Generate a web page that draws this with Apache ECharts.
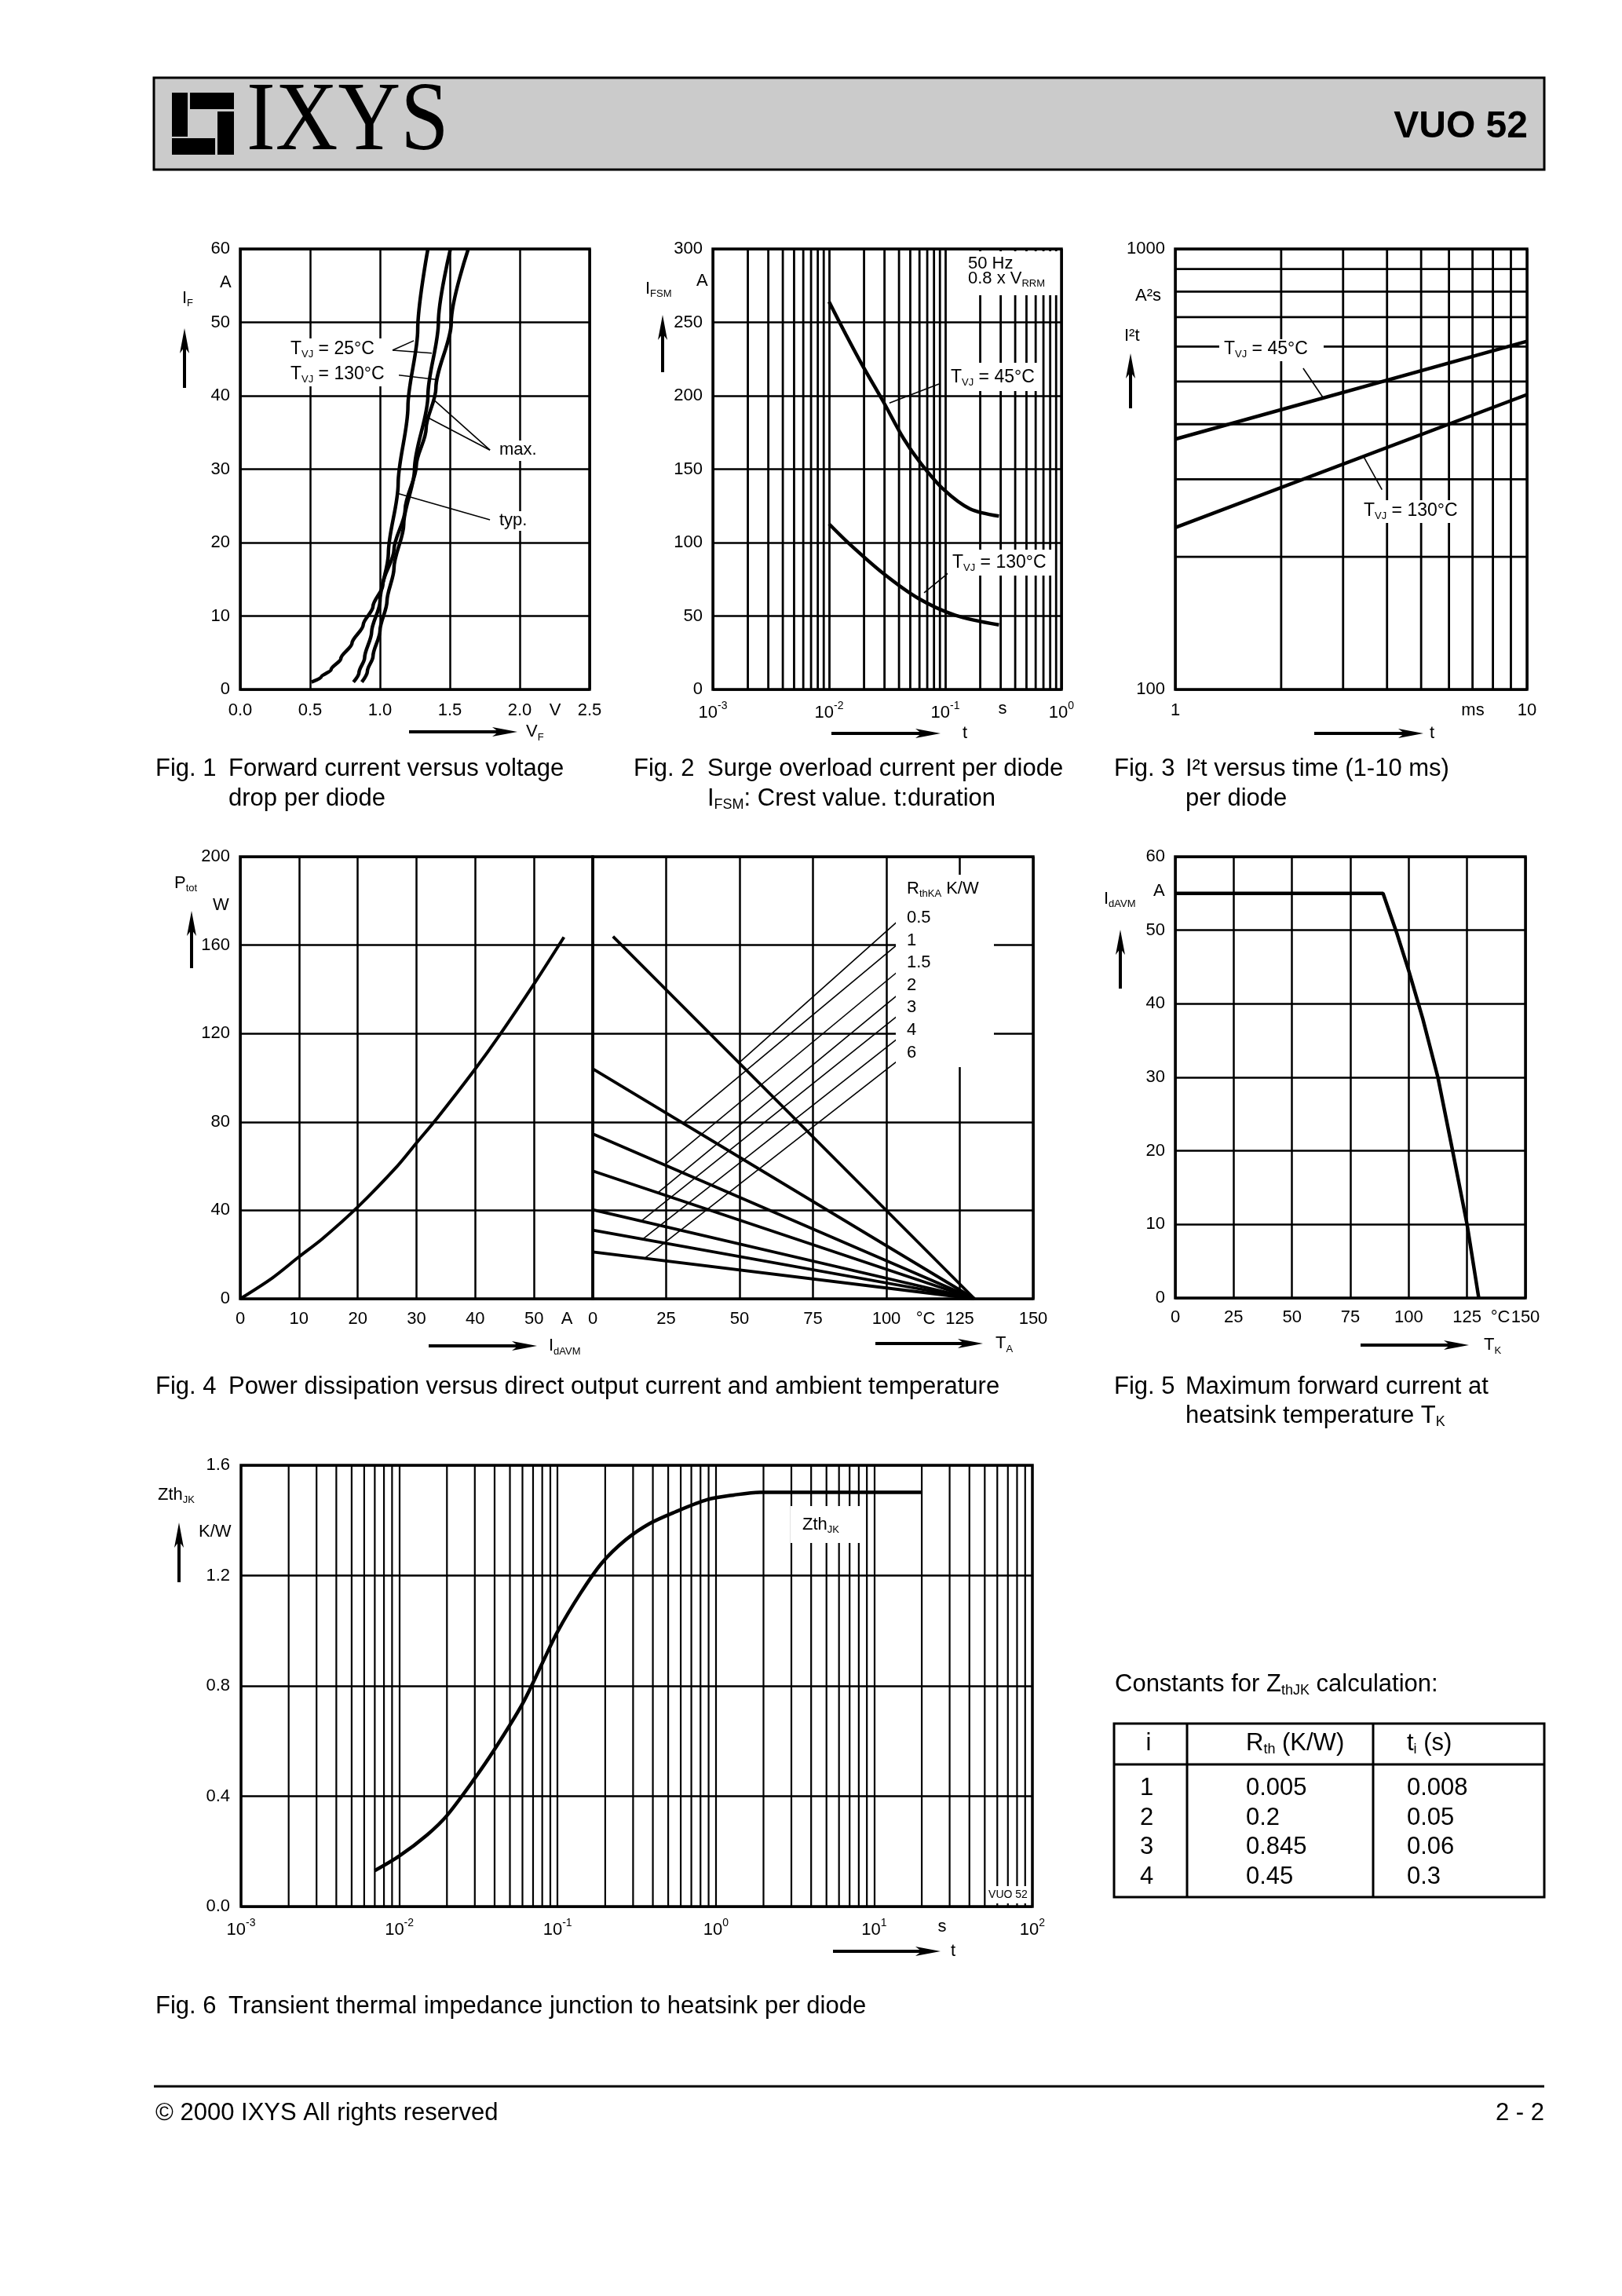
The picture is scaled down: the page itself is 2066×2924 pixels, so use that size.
<!DOCTYPE html>
<html><head><meta charset="utf-8">
<script src="https://cdn.jsdelivr.net/npm/echarts@6/dist/echarts.min.js"></script>
<style>html,body{margin:0;padding:0;background:#fff}#c{width:2066px;height:2924px}</style>
</head><body><div id="c"></div>
<script>
// ---------------- DATA ----------------
// Fig 1: forward current IF (A) vs VF (V)
const fig1Typ25 = [[0.81,1],[0.85,2.3],[0.89,4.3],[0.94,7.8],[1.0,12],[1.06,18.5],[1.13,28],[1.2,38.5],[1.27,49],[1.343,60]];
const fig1Max25 = [[0.87,1],[0.91,2.5],[0.95,4.5],[1.0,8],[1.05,12],[1.1,16.5],[1.17,22.5],[1.247,30],[1.343,40],[1.418,50],[1.504,60]];
const fig1Max130 = [[0.51,1],[0.58,1.7],[0.65,2.7],[0.72,4.2],[0.8,6.3],[0.88,8.8],[0.95,11.3],[1.02,14.2],[1.1,19],[1.18,24.5],[1.26,30.5],[1.33,35.5],[1.4,41],[1.51,50],[1.632,60]];
const fig1Lead25a = [[1.09,46.2],[1.242,47.5]];
const fig1Lead25b = [[1.09,46.2],[1.371,45.8]];
const fig1Lead130 = [[1.135,42.8],[1.41,42.2]];
const fig1LeadMaxA = [[1.787,32.6],[1.388,39.4]];
const fig1LeadMaxB = [[1.787,32.6],[1.326,37.2]];
const fig1LeadTyp = [[1.787,23.1],[1.124,26.7]];
// Fig 2: surge current IFSM (A) vs t (s)
const fig2T45 = [[0.01,264],[0.0139,242],[0.0196,220],[0.0293,196],[0.0437,171],[0.0616,154],[0.0974,136],[0.163,123],[0.29,118]];
const fig2T130 = [[0.01,112.7],[0.0147,99.7],[0.0293,79],[0.0582,62.2],[0.1224,50.5],[0.29,44]];
const fig2Lead45 = [[0.0883,208],[0.0331,195]];
const fig2Lead130 = [[0.108,79.7],[0.0658,65.8]];
// Fig 3: I2t (A2s) vs t (ms)
const fig3T45 = [[1,370],[10,617]];
const fig3T130 = [[1,233],[10,467]];
const fig3Lead45 = [[2.31,536],[2.63,460]];
const fig3Lead130 = [[3.43,338],[3.87,284]];
// Fig 4 left: Ptot (W) vs IdAVM (A)
const fig4Ptot = [[0,0],[5.5,9.5],[10,19],[14,27.2],[20,41.5],[26.7,59.9],[30,70.5],[33.6,82],[40,104],[44.2,119.5],[50,142.4],[55.1,163.6]];
// Fig 4 right: Ptot (W) vs TA (degC) per RthKA
const fig4RthLabels = ['0.5','1','1.5','2','3','4','6'];
const fig4R05 = [[6.9,163.9],[130,0]];
const fig4R1 = [[0,104],[130,0]];
const fig4R15 = [[0,74.6],[130,0]];
const fig4R2 = [[0,57.8],[130,0]];
const fig4R3 = [[0,40.3],[130,0]];
const fig4R4 = [[0,31],[130,0]];
const fig4R6 = [[0,21.2],[130,0]];
const fig4Leads = [
  [[103.5,170.4],[50,107]],
  [[103.5,160],[31.2,80]],
  [[103.5,147.6],[24.8,61]],
  [[103.5,137.1],[22.2,48]],
  [[103.5,127.7],[16.4,35]],
  [[103.5,117.4],[17.1,27]],
  [[103.5,107.3],[17.7,18.3]]
];
// Fig 5: IdAVM (A) vs TK (degC)
const fig5Curve = [[0,55],[89,55],[95,49.5],[100,44.5],[106,38],[112.5,30],[118.5,20.5],[125,10],[130,0]];
// Fig 6: ZthJK (K/W) vs t (s)
const fig6Zth = [[0.007,0.13],[0.01,0.183],[0.015,0.26],[0.02,0.33],[0.03,0.465],[0.04,0.57],[0.06,0.735],[0.08,0.882],[0.1,0.997],[0.14,1.137],[0.19,1.245],[0.27,1.33],[0.38,1.388],[0.55,1.43],[0.88,1.475],[1.3,1.492],[1.9,1.502],[20,1.502]];
// Table
const tblI = ['1','2','3','4'];
const tblRth = ['0.005','0.2','0.845','0.45'];
const tblTi = ['0.008','0.05','0.06','0.3'];
// log grid digits
const minorDigits = [2,3,4,5,6,7,8,9];

// ---------------- HELPERS ----------------
const FONT = '"Liberation Sans", Arial, Helvetica, sans-serif';
const ctx = document.createElement('canvas').getContext('2d');
function tw(t, s, w){ ctx.font = (w||'normal') + ' ' + s + 'px ' + FONT; return ctx.measureText(t).width; }
const G = [];
function txt(x, y, t, s, o){
  o = o || {};
  G.push({type:'text', x:x, y:y, z:o.z||110, scaleX:o.sx||1, silent:true,
    style:{text:t, font:(o.w||'normal')+' '+s+'px '+(o.f||FONT), fill:'#000', textAlign:o.a||'left', textVerticalAlign:'middle'}});
}
function comp(x, y, parts, align){
  const total = parts.reduce((a,p)=>a+tw(p[0],p[1]),0);
  let cx = align==='right' ? x-total : (align==='center' ? x-total/2 : x);
  parts.forEach(p=>{ txt(cx, y+(p[2]||0), p[0], p[1]); cx += tw(p[0],p[1]); });
}
function box(x,y,w,h){ G.push({type:'rect', z:105, silent:true, shape:{x:x,y:y,width:w,height:h}, style:{fill:'#fff'}}); }
function hline(x1,x2,y,w){ G.push({type:'line', z:110, silent:true, shape:{x1:x1,y1:y,x2:x2,y2:y}, style:{stroke:'#000', lineWidth:w}}); }
function vline(x,y1,y2,w){ G.push({type:'line', z:110, silent:true, shape:{x1:x,y1:y1,x2:x,y2:y2}, style:{stroke:'#000', lineWidth:w}}); }
function harrow(x1,x2,y){
  hline(x1, x2-20, y, 4);
  G.push({type:'polygon', z:110, silent:true, shape:{points:[[x2,y],[x2-32,y-6],[x2-24,y],[x2-32,y+6]]}, style:{fill:'#000'}});
}
function varrow(x,y1,y2){
  vline(x, y1+20, y2, 4);
  G.push({type:'polygon', z:110, silent:true, shape:{points:[[x,y1],[x-6,y1+32],[x,y1+24],[x+6,y1+32]]}, style:{fill:'#000'}});
}
function blkRect(x,y,w,h){ G.push({type:'rect', z:110, silent:true, shape:{x:x,y:y,width:w,height:h}, style:{fill:'#000'}}); }

const GRID_W = 2.5, BORDER_W = 3.5;
const gridDefs = [
  {left:306, top:317, width:445, height:561},
  {left:908, top:317, width:444, height:561},
  {left:1497, top:317, width:448, height:561},
  {left:306, top:1091, width:449, height:563},
  {left:755, top:1091, width:561, height:563},
  {left:1497, top:1091, width:446, height:562},
  {left:307, top:1866, width:1008, height:562}
];
const grids = gridDefs.map(g => Object.assign({show:true, borderColor:'#000', borderWidth:BORDER_W, backgroundColor:'transparent', containLabel:false}, g));

const lblBase = {color:'#000', fontSize:22, fontFamily:FONT};
const supRich = {p:{fontSize:14, fontFamily:FONT, color:'#000', padding:[0,0,18,0]}};
function expFmt(v){ const e = Math.round(Math.log10(v)); return '10{p|' + e + '}'; }
function ax(gi, o){
  return Object.assign({
    gridIndex: gi,
    axisLine:{show:false}, axisTick:{show:false},
    splitLine:{show:true, lineStyle:{color:'#000', width:GRID_W}},
    axisLabel:Object.assign({margin:14}, lblBase)
  }, o);
}
const xAxes = [
  ax(0,{type:'value', min:0, max:2.5, interval:0.5, axisLabel:Object.assign({margin:16, formatter:v=>v.toFixed(1)}, lblBase)}),
  ax(1,{type:'log', logBase:10, min:0.001, max:1, splitLine:{show:true, lineStyle:{color:'#000', width:2.8}}, axisLabel:Object.assign({margin:14, formatter:expFmt, rich:supRich}, lblBase)}),
  ax(2,{type:'log', logBase:10, min:1, max:10, axisLabel:Object.assign({margin:16, formatter:v=>String(Math.round(v))}, lblBase)}),
  ax(3,{type:'value', min:0, max:60, interval:10, axisLabel:Object.assign({margin:15, formatter:v=>v===60?'':String(v)}, lblBase)}),
  ax(4,{type:'value', min:0, max:150, interval:25, axisLabel:Object.assign({margin:15}, lblBase)}),
  ax(5,{type:'value', min:0, max:150, interval:25, axisLabel:Object.assign({margin:14}, lblBase)}),
  ax(6,{type:'log', logBase:10, min:0.001, max:100, splitLine:{show:true, lineStyle:{color:'#000', width:2.2}}, axisLabel:Object.assign({margin:14, formatter:expFmt, rich:supRich}, lblBase)})
];
const yAxes = [
  ax(0,{type:'value', min:0, max:60, interval:10, axisLabel:Object.assign({margin:13}, lblBase)}),
  ax(1,{type:'value', min:0, max:300, interval:50, axisLabel:Object.assign({margin:13}, lblBase)}),
  ax(2,{type:'log', logBase:10, min:100, max:1000, axisLabel:Object.assign({margin:13, formatter:v=>String(Math.round(v))}, lblBase)}),
  ax(3,{type:'value', min:0, max:200, interval:40, axisLabel:Object.assign({margin:13}, lblBase)}),
  ax(4,{type:'value', min:0, max:200, interval:40, axisLabel:{show:false}}),
  ax(5,{type:'value', min:0, max:60, interval:10, axisLabel:Object.assign({margin:13}, lblBase)}),
  ax(6,{type:'value', min:0, max:1.6, interval:0.4, axisLabel:Object.assign({margin:14, formatter:v=>v.toFixed(1)}, lblBase)})
];

function ln(gi, data, w, extra){
  return Object.assign({type:'line', xAxisIndex:gi, yAxisIndex:gi, data:data, symbol:'none', showSymbol:false,
    lineStyle:{color:'#000', width:w}, silent:true, animation:false, z:3}, extra||{});
}
// minor log grid lines, drawn through the axes as 2-point series
const decades = (from, n) => { const out=[]; for(let i=0;i<n;i++){ const d=Math.pow(10,from+i); minorDigits.forEach(k=>out.push(+(k*d).toPrecision(6))); } return out; };
const fig2Minor = decades(-3,3);
const fig3MinorX = decades(0,1);
const fig3MinorY = decades(2,1);
const fig6Minor = decades(-3,5);
function vGrid(gi, vals, y0, y1, w){ return vals.map(v => ln(gi, [[v,y0],[v,y1]], w, {z:1})); }
function hGrid(gi, vals, x0, x1, w){ return vals.map(v => ln(gi, [[x0,v],[x1,v]], w, {z:1})); }

const LW = 4.5, LEAD = 1.6;
let series = [
  // Fig 1
  ln(0, fig1Typ25, LW, {smooth:0.3, smoothMonotone:'y'}),
  ln(0, fig1Max25, LW, {smooth:0.3, smoothMonotone:'y'}),
  ln(0, fig1Max130, LW, {smooth:0.3, smoothMonotone:'y'}),
  ln(0, fig1Lead25a, LEAD), ln(0, fig1Lead25b, LEAD), ln(0, fig1Lead130, LEAD),
  ln(0, fig1LeadMaxA, LEAD), ln(0, fig1LeadMaxB, LEAD), ln(0, fig1LeadTyp, LEAD),
  // Fig 2
  ln(1, fig2T45, LW, {smooth:0.3}),
  ln(1, fig2T130, LW, {smooth:0.3}),
  ln(1, fig2Lead45, LEAD), ln(1, fig2Lead130, LEAD),
  // Fig 3
  ln(2, fig3T45, LW),
  ln(2, fig3T130, LW),
  ln(2, fig3Lead45, LEAD), ln(2, fig3Lead130, LEAD),
  // Fig 4 left
  ln(3, fig4Ptot, 4, {smooth:0.3}),
  // Fig 4 right
  ln(4, fig4R05, 3.8), ln(4, fig4R1, 3.8), ln(4, fig4R15, 3.8), ln(4, fig4R2, 3.8),
  ln(4, fig4R3, 3.8), ln(4, fig4R4, 3.8), ln(4, fig4R6, 3.8)
].concat(fig4Leads.map(d=>ln(4, d, LEAD))).concat([
  // Fig 5
  ln(5, fig5Curve, 4.5),
  // Fig 6
  ln(6, fig6Zth, 4.5, {smooth:0.3})
]);
series = series
  .concat(vGrid(1, fig2Minor, 0, 300, 2.8))
  .concat(vGrid(2, fig3MinorX, 100, 1000, 2.8))
  .concat(hGrid(2, fig3MinorY, 1, 10, 2.8))
  .concat(vGrid(6, fig6Minor, 0, 1.6, 2.2));

// ---------------- TEXT / DECOR ----------------
// header
G.push({type:'rect', z:100, silent:true, shape:{x:196,y:99,width:1771,height:117}, style:{fill:'#cbcbcb', stroke:'#000', lineWidth:3}});
blkRect(219,118,20,56); blkRect(242,118,56,21); blkRect(277,142,21,55); blkRect(219,176,55,21);
txt(314,157,'IXYS',124,{f:'"Liberation Serif", "Times New Roman", serif', sx:0.89});
txt(1946,162,'VUO 52',48,{w:'bold', a:'right'});

// Fig 1
comp(232,380,[['I',22],['F',13,6]]); txt(280,360,'A',22); varrow(235,418,494);
box(366,431,130,61);
comp(370,445,[['T',23],['VJ',13,6],[' = 25°C',23]]);
comp(370,477,[['T',23],['VJ',13,6],[' = 130°C',23]]);
box(632,561,56,26); txt(636,573,'max.',22);
box(632,651,50,25); txt(636,663,'typ.',22);
txt(707,905,'V',22,{a:'center'});
harrow(521,659,932); comp(670,932,[['V',22],['F',13,7]]);
txt(198,979,'Fig. 1',31); txt(291,979,'Forward current versus voltage',31); txt(291,1017,'drop per diode',31);

// Fig 2
comp(822,368,[['I',22],['FSM',13,6]]); txt(887,358,'A',22); varrow(844,401,474);
box(1231,320,119,56); txt(1233,336,'50 Hz',22); comp(1233,355,[['0.8 x V',22],['RRM',13,6]]);
box(1207,462,118,36); comp(1211,481,[['T',23],['VJ',13,6],[' = 45°C',23]]);
box(1207,700,133,33); comp(1213,717,[['T',23],['VJ',13,6],[' = 130°C',23]]);
txt(1277,903,'s',22,{a:'center'});
harrow(1059,1198,934); txt(1229,934,'t',22,{a:'center'});
txt(807,979,'Fig. 2',31); txt(901,979,'Surge overload current per diode',31);
comp(901,1017,[['I',31],['FSM',18,8],[': Crest value. t:duration',31]]);

// Fig 3
txt(1446,377,'A²s',22); txt(1432,428,'I²t',22); varrow(1440,450,520);
box(1553,432,133,28); comp(1559,445,[['T',23],['VJ',13,6],[' = 45°C',23]]);
box(1733,637,132,29); comp(1737,651,[['T',23],['VJ',13,6],[' = 130°C',23]]);
txt(1876,905,'ms',22,{a:'center'});
harrow(1674,1813,934); txt(1824,934,'t',22,{a:'center'});
txt(1419,979,'Fig. 3',31); txt(1510,979,'I²t versus time (1-10 ms)',31); txt(1510,1017,'per diode',31);

// Fig 4
comp(222,1125,[['P',22],['tot',13,6]]); txt(271,1153,'W',22); varrow(244,1160,1233);
txt(722,1680,'A',22,{a:'center'}); txt(1179,1680,'°C',22,{a:'center'});
harrow(546,684,1714); comp(699,1714,[['I',22],['dAVM',13,7]]);
harrow(1115,1252,1711); comp(1268,1711,[['T',22],['A',13,7]]);
box(1141,1114,125,245);
comp(1155,1132,[['R',22],['thKA',13,6],[' K/W',22]]);
const fig4LabelY = [1169,1198,1226,1255,1283,1312,1341];
fig4RthLabels.forEach((l,i)=>txt(1155,fig4LabelY[i],l,22));
txt(198,1766,'Fig. 4',31); txt(291,1766,'Power dissipation versus direct output current and ambient temperature',31);

// Fig 5
comp(1406,1145,[['I',22],['dAVM',13,6]]); txt(1469,1135,'A',22); varrow(1427,1184,1259);
txt(1911,1678,'°C',22,{a:'center'});
harrow(1733,1871,1713); comp(1890,1713,[['T',22],['K',13,7]]);
txt(1419,1766,'Fig. 5',31); txt(1510,1766,'Maximum forward current at',31);
comp(1510,1803,[['heatsink temperature T',31],['K',18,8]]);

// Fig 6
comp(201,1904,[['Zth',22],['JK',13,6]]); txt(253,1951,'K/W',22); varrow(228,1939,2015);
box(1007,1918,89,47); comp(1022,1942,[['Zth',22],['JK',13,6]]);
box(1256,2402,56,22); txt(1284,2413,'VUO 52',14,{a:'center'});
txt(1200,2454,'s',22,{a:'center'});
harrow(1061,1198,2485); txt(1214,2485,'t',22,{a:'center'});
txt(198,2555,'Fig. 6',31); txt(291,2555,'Transient thermal impedance junction to heatsink per diode',31);

// Table
comp(1420,2145,[['Constants for Z',31],['thJK',18,8],[' calculation:',31]]);
G.push({type:'rect', z:100, silent:true, shape:{x:1419,y:2195,width:548,height:221}, style:{fill:'none', stroke:'#000', lineWidth:3}});
hline(1419,1967,2247,3); vline(1512,2195,2416,3); vline(1749,2195,2416,3);
txt(1463,2220,'i',31,{a:'center'});
comp(1587,2220,[['R',31],['th',18,8],[' (K/W)',31]]);
comp(1792,2220,[['t',31],['i',18,8],[' (s)',31]]);
const tblY = [2277,2315,2352,2390];
tblI.forEach((v,i)=>{ txt(1452,tblY[i],v,31); txt(1587,tblY[i],tblRth[i],31); txt(1792,tblY[i],tblTi[i],31); });

// Footer
hline(196,1967,2657,3);
txt(198,2691,'© 2000 IXYS All rights reserved',31);
txt(1967,2691,'2 - 2',31,{a:'right'});

const chart = echarts.init(document.getElementById('c'), null, {renderer:'canvas', width:2066, height:2924});
chart.setOption({
  backgroundColor:'#fff',
  animation:false,
  grid: grids,
  xAxis: xAxes,
  yAxis: yAxes,
  series: series,
  graphic: {elements: G}
});
</script>
</body></html>
